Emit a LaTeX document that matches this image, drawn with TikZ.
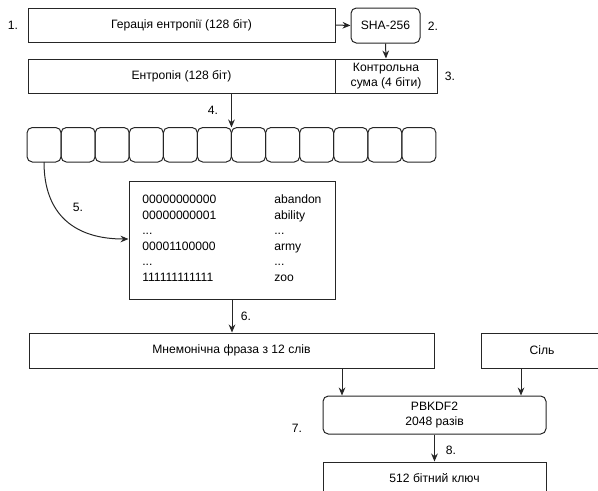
\documentclass[tikz,border=0pt]{standalone}
\usepackage{fontspec}
\setmainfont{Liberation Sans}
\usetikzlibrary{arrows.meta,calc}
\newcommand\tabdots{...}
\begin{document}
\begin{tikzpicture}[x=0.75pt,y=-0.75pt,
  font=\fontsize{9.1}{11}\selectfont,
  box/.style={draw=black!85,line width=0.75pt,fill=white,inner sep=0pt,align=center},
  rbox/.style={box,rounded corners=4pt},
  arr/.style={-{Stealth[length=6pt,width=5pt]},line width=0.75pt,draw=black!85},
  num/.style={inner sep=0pt},
  row/.style={inner sep=0pt,text height=6.6pt,text depth=2pt},
  cell/.style={draw=black!85,line width=0.75pt,rounded corners=4pt}]
\useasboundingbox (0,0) rectangle (598,490);

% step 1: entropy generation and hashing
\node[box,minimum width=307*0.75pt,minimum height=34*0.75pt] (gen) at (181.5,25) {Герація ентропії (128 біт)};
\node[rbox,minimum width=69*0.75pt,minimum height=35*0.75pt] (sha) at (385.5,25.5) {SHA-256};
\draw[arr] (gen.east) -- (sha.west);

% step 3: entropy with checksum appended
\node[box,minimum width=307*0.75pt,minimum height=34*0.75pt] (ent) at (181.5,76) {Ентропія (128 біт)};
\node[box,minimum width=102*0.75pt,minimum height=34*0.75pt] (chk) at (386,76) {Контрольна\\сума (4 біти)};
\draw[arr] (sha.south) -- (chk.north);

% step 4: split into twelve 11-bit groups
\foreach \i in {1,...,12}{
  \pgfmathsetmacro{\xa}{27+(\i-1)*34.08}
  \pgfmathsetmacro{\xb}{27+\i*34.08}
  \draw[cell] (\xa,127.5) rectangle (\xb,162);
  \coordinate (c\i nw) at (\xa,127.5);
}
\draw[arr] (c7nw |- ent.south) -- (c7nw);

% step 5: word list lookup
\node[box,minimum width=206*0.75pt,minimum height=118*0.75pt] (tbl) at (232,240) {};
\foreach \y/\a/\b [count=\k] in {200/00000000000/abandon,216/00000000001/ability,231/\tabdots/\tabdots,247/00001100000/army,262/\tabdots/\tabdots,278/111111111111/zoo}{
  \node[row,anchor=west] (l\k) at (142,\y) {\a};
  \node[row,anchor=west] (r\k) at (274,\y) {\b};
}
\coordinate (c1s) at (44,162);
\draw[arr] (c1s) .. controls (44,215) and (75,239) .. (tbl.west |- 0,239);

% step 6: mnemonic phrase
\node[box,minimum width=405*0.75pt,minimum height=35*0.75pt] (mn) at (231.5,350.5) {Мнемонічна фраза з 12 слів};
\draw[arr] (tbl.south) -- (tbl.south |- mn.north);

% step 7: key stretching with salt
\node[box,minimum width=122*0.75pt,minimum height=35*0.75pt] (salt) at (542,350.5) {Сіль};
\node[rbox,minimum width=223*0.75pt,minimum height=38*0.75pt] (pbk) at (434.5,415) {PBKDF2\\2048 разів};
\coordinate (mnout) at (342,368);
\coordinate (saltout) at (521,368);
\draw[arr] (mnout) -- (mnout |- pbk.north);
\draw[arr] (saltout) -- (saltout |- pbk.north);

% step 8: resulting seed
\node[box,minimum width=223*0.75pt,minimum height=32*0.75pt] (key) at (434.5,478) {512 бітний ключ};
\draw[arr] (pbk.south) -- (key.north);

% step numbers
\node[num] (n1) at (13,25) {1.};
\node[num] (n2) at (433,26) {2.};
\node[num] (n3) at (450,76) {3.};
\node[num] (n4) at (213,110) {4.};
\node[num] (n5) at (78,207) {5.};
\node[num] (n6) at (246,316) {6.};
\node[num] (n7) at (297,428) {7.};
\node[num] (n8) at (451,450) {8.};
\end{tikzpicture}
\end{document}
